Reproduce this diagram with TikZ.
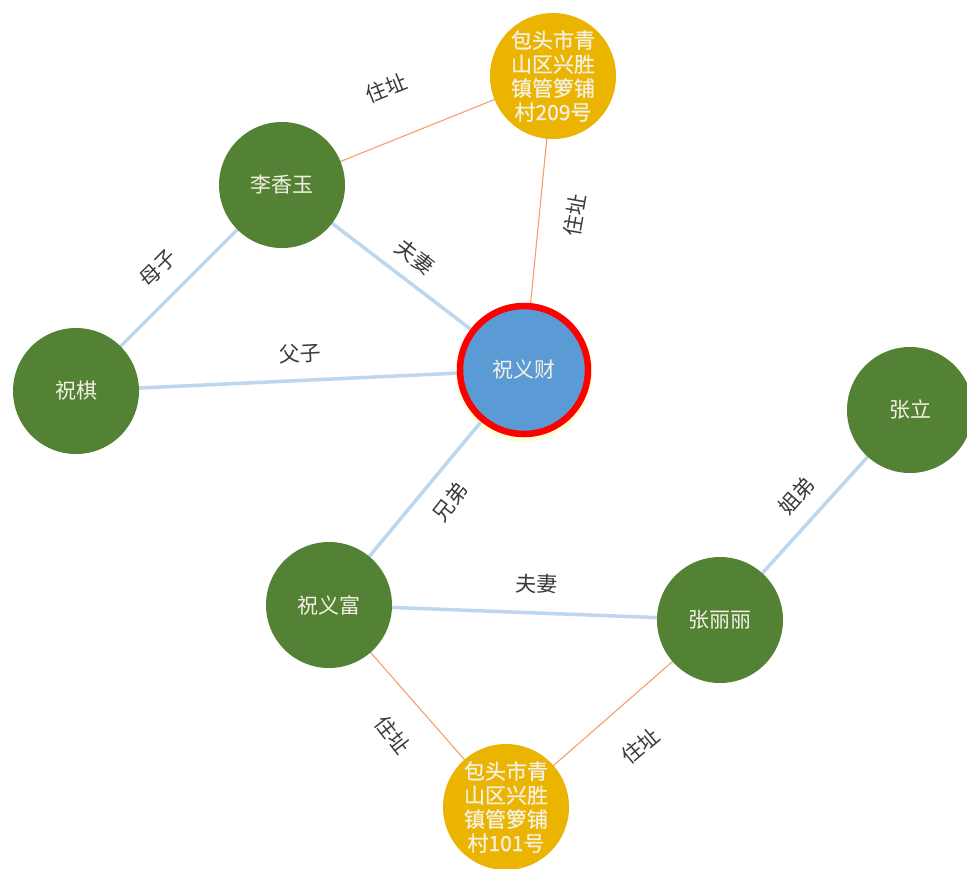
\documentclass[tikz,border=0pt]{standalone}
\usepackage{fontspec}
\usetikzlibrary{backgrounds}
\setmainfont{Noto Sans CJK SC}
\newfontfamily\addrfont[FakeBold=0.8]{Noto Sans CJK SC}
\definecolor{pgreen}{HTML}{548235}
\definecolor{pgold}{HTML}{EBB400}
\definecolor{pblue}{HTML}{5B9BD5}
\definecolor{pedge}{HTML}{BDD7EE}
\definecolor{porange}{HTML}{F4A06E}
\definecolor{ptext}{HTML}{F4F1E4}
\definecolor{plabel}{HTML}{3A3A3A}
\tikzset{
  person/.style={circle, fill=pgreen, minimum size=126pt, inner sep=0pt, text=ptext,
    font=\fontsize{21pt}{24pt}\selectfont},
  addr/.style={circle, fill=pgold, minimum size=126pt, inner sep=0pt, text=ptext, align=center,
    font=\addrfont\fontsize{21pt}{24pt}\selectfont},
  hub/.style={circle, fill=pblue, draw=red, line width=6.5pt, minimum size=128pt, inner sep=0pt, text=ptext,
    font=\fontsize{21pt}{24pt}\selectfont},
  rel/.style={draw=pedge, line width=3.5pt},
  res/.style={draw=porange, line width=1.1pt},
  lbl/.style={text=plabel, inner sep=0pt, font=\fontsize{21pt}{24pt}\selectfont}
}
\begin{document}
\begin{tikzpicture}[x=1pt,y=-1pt]
\useasboundingbox (0,0) rectangle (967,868);
\clip (0,0) rectangle (967,868);
\node[person] (lxy) at (282,185) {李香玉};
\node[addr] (a209) at (553,76) {包头市青\\山区兴胜\\镇管箩铺\\村209号};
\node[hub] (zyc) at (524,370) {祝义财};
\node[person] (zq) at (76,391) {祝棋};
\node[person] (zl) at (910,410) {张立};
\node[person] (zyf) at (329,605) {祝义富};
\node[person] (zll) at (720,620) {张丽丽};
\node[addr] (a101) at (506,807) {包头市青\\山区兴胜\\镇管箩铺\\村101号};
\begin{scope}[on background layer]
\fill[white] (0,0) rectangle (967,868);
\fill[yellow!18!white] (524,373) circle (68.5pt);
\path[res] (lxy.center) -- (a209.center);
\path[res] (a209.center) -- (zyc.center);
\path[rel] (lxy.center) -- (zyc.center);
\path[rel] (lxy.center) -- (zq.center);
\path[rel] (zq.center) -- (zyc.center);
\path[rel] (zyc.center) -- (zyf.center);
\path[rel] (zyf.center) -- (zll.center);
\path[rel] (zll.center) -- (zl.center);
\path[res] (zyf.center) -- (a101.center);
\path[res] (zll.center) -- (a101.center);
\end{scope}
% labels
\node[lbl, rotate=22] (l1) at (386,88) {住址};
\node[lbl, rotate=80] (l2) at (575,215) {住址};
\node[lbl, rotate=-37] (l3) at (415,257) {夫妻};
\node[lbl, rotate=45] (l4) at (158,268) {母子};
\node[lbl, rotate=3] (l5) at (300,354) {父子};
\node[lbl, rotate=52] (l6) at (450,502) {兄弟};
\node[lbl, rotate=-2] (l7) at (537,584) {夫妻};
\node[lbl, rotate=48] (l8) at (797,496) {姐弟};
\node[lbl, rotate=-52] (l9) at (393,735) {住址};
\node[lbl, rotate=40] (l10) at (640,746) {住址};
\end{tikzpicture}
\end{document}
